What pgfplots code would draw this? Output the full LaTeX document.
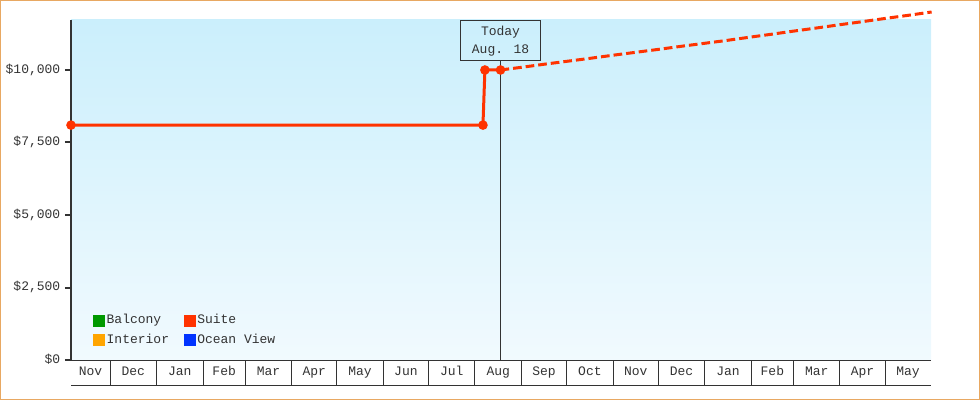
\documentclass[border=0pt]{standalone}
\usepackage{fontspec}
\setmainfont{Liberation Mono}
\usepackage{pgfplots}
\pgfplotsset{compat=1.18}

\definecolor{suite}{HTML}{FF3300}
\definecolor{balcony}{HTML}{009900}
\definecolor{interior}{HTML}{FFA500}
\definecolor{oceanview}{HTML}{0033FF}
\definecolor{axisgrey}{HTML}{333333}
\definecolor{bgtop}{HTML}{CBEFFC}
\definecolor{bgbottom}{HTML}{F1FAFE}
\definecolor{framecol}{HTML}{E8A862}

% x = day index counted from 1 Nov (Dec 1 = 30, Aug 18 = 290)
\begin{document}
\begin{tikzpicture}
\begin{axis}[
  at={(53.25pt,30pt)}, anchor=south west,
  scale only axis, width=645pt, height=255pt,
  xmin=4.03, xmax=576.6, ymin=0, ymax=11724,
  clip=false,
  axis x line*=bottom, axis y line*=left,
  x axis line style={-, axisgrey, line width=0.75pt},
  y axis line style={-, axisgrey, line width=1.7pt},
  axis background/.style={top color=bgtop, bottom color=bgbottom},
  font=\fontsize{9.75}{12}\selectfont,
  tick label style={text=axisgrey},
  /pgf/number format/assume math mode=true,
  scaled y ticks=false,
  tick align=outside,
  major tick length=4.5pt,
  minor tick length=18.75pt,
  ytick={0,2500,5000,7500,10000},
  yticklabels={{\$0},{\$2,500},{\$5,000},{\$7,500},{\$10,000}},
  y tick style={axisgrey, line width=1.5pt},
  xtick={17,45.5,76.5,106,135.5,166,196.5,227,257.5,288.5,319,349.5,380,410.5,441.5,471,500.5,531,561.3},
  xticklabels={Nov,Dec,Jan,Feb,Mar,Apr,May,Jun,Jul,Aug,Sep,Oct,Nov,Dec,Jan,Feb,Mar,Apr,May},
  major x tick style={draw=none},
  minor xtick={30,61,92,120,151,181,212,242,273,304,334,365,395,426,457,485,516,546},
  minor x tick style={axisgrey, line width=0.75pt},
  typeset ticklabels with strut,
  xticklabel style={anchor=center, yshift=-4.6pt},
  legend columns=2,
  legend image code/.code={\fill[#1] (0pt,-4.1pt) rectangle (8.25pt,4.1pt);},
  legend style={at={(0.0256,0.139)}, anchor=north west, draw=none, fill=none,
    inner sep=0pt, row sep=3.8pt, column sep=0pt, text=axisgrey,
    nodes={inner sep=0.6pt, text height=7.5pt, text depth=2.3pt},
    /tikz/every odd column/.append style={column sep=0.8pt},
    /tikz/every even column/.append style={column sep=10.5pt}},
  legend cell align=left,
]
\addlegendimage{balcony}
\addlegendimage{suite}
\addlegendimage{interior}
\addlegendimage{oceanview}
\legend{Balcony,Suite,Interior,Ocean View}

% today marker
\addplot[axisgrey, line width=0.75pt, forget plot] coordinates {(290,0) (290,10330)};
\node[draw=axisgrey, line width=0.75pt, fill=none, text=axisgrey,
  minimum width=60pt, minimum height=30pt, inner sep=0pt, align=center,
  font=\fontsize{9.75}{13.5}\selectfont]
  at (axis cs:290,11034) {\rule{0pt}{9pt}Today\\Aug. 18};

% Suite: booked price history
\addplot[suite, line width=2.25pt, mark=*, mark size=2.4pt, forget plot]
  coordinates {(4.03,8100) (278.3,8100) (279.6,10000) (290,10000)};

% Suite: projected price
\addplot[suite, line width=2.25pt, dash pattern=on 6.5pt off 3pt, forget plot]
  coordinates {
  (290,10000) (305,10100) (320,10205) (335,10305) (350,10405)
  (365,10510) (380,10610) (395,10710) (410,10815) (425,10915)
  (440,11015) (455,11125) (470,11230) (485,11340) (500,11445)
  (515,11555) (530,11660) (545,11770) (560,11875) (577,12000)};

\draw[axisgrey, line width=0.75pt]
  ([yshift=-18.75pt]rel axis cs:0,0) -- ([yshift=-18.75pt]rel axis cs:1,0);
\end{axis}
\pgfresetboundingbox
\path[use as bounding box] (0pt,0pt) rectangle (735pt,300pt);
\draw[framecol, line width=0.75pt] (0.375pt,0.375pt) rectangle (734.625pt,299.625pt);
\end{tikzpicture}
\end{document}
